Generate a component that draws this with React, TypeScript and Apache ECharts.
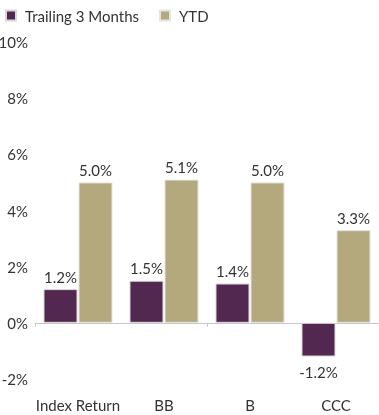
import React, { useEffect, useRef } from "react";
import * as echarts from "echarts";

const categories = ["Index Return", "BB", "B", "CCC"];
const trailing3Months = [1.2, 1.5, 1.4, -1.2];
const ytd = [5.0, 5.1, 5.0, 3.3];
const seriesNames = ["Trailing 3 Months", "YTD"];

const PURPLE = "#532850";
const GOLD = "#b4a97c";
const TEXT = "#333333";
const FONT = "Lato";

export default function App() {
  const ref = useRef<HTMLDivElement>(null);
  useEffect(() => {
    if (!ref.current) return;
    const chart = echarts.init(ref.current, undefined, { renderer: "svg" });
    const fmt = (v: number) => v.toFixed(1) + "%";
    const mkData = (arr: number[]) =>
      arr.map((v) => ({
        value: v,
        label: { position: v < 0 ? "bottom" : "top", distance: v < 0 ? 8 : 5 },
      }));
    chart.setOption({
      animation: false,
      textStyle: { fontFamily: FONT },
      legend: {
        left: 0,
        top: 3,
        itemWidth: 10,
        itemHeight: 10,
        itemGap: 20,
        icon: "rect",
        textStyle: { fontFamily: FONT, fontSize: 15, color: TEXT, padding: [0, 0, 0, 4] },
        data: seriesNames,
      },
      grid: {
        left: 35,
        right: 0,
        top: 42,
        bottom: 36,
        containLabel: false,
        outerBoundsMode: "none",
      },
      xAxis: [
        {
          type: "category",
          data: categories,
          position: "bottom",
          axisLine: { show: false, onZero: false },
          axisTick: { show: false },
          axisLabel: { interval: 0, fontFamily: FONT, fontSize: 15, color: TEXT, margin: 18 },
        },
        {
          type: "category",
          data: categories,
          position: "top",
          axisLine: { show: true, onZero: true, lineStyle: { color: "#c8c8c8", width: 1 } },
          axisTick: { show: true, inside: true, length: 4, lineStyle: { color: "#c8c8c8" } },
          axisLabel: { show: false },
        },
      ],
      yAxis: {
        type: "value",
        min: -2,
        max: 10,
        interval: 2,
        splitLine: { show: false },
        axisLine: { show: false },
        axisTick: { show: false },
        axisLabel: {
          formatter: "{value}%",
          fontFamily: FONT,
          fontSize: 15,
          color: TEXT,
          margin: 7,
        },
      },
      series: [
        {
          name: seriesNames[0],
          type: "bar",
          xAxisIndex: 0,
          data: mkData(trailing3Months),
          barWidth: 34,
          barGap: "3%",
          itemStyle: { color: PURPLE, borderColor: "#d8d8d8", borderWidth: 1 },
          label: {
            show: true,
            formatter: (p: any) => fmt(p.value),
            fontFamily: FONT,
            fontSize: 15,
            color: TEXT,
          },
        },
        {
          name: seriesNames[1],
          type: "bar",
          xAxisIndex: 0,
          data: mkData(ytd),
          barWidth: 34,
          barGap: "3%",
          itemStyle: { color: GOLD, borderColor: "#e4e4e4", borderWidth: 1 },
          label: {
            show: true,
            formatter: (p: any) => fmt(p.value),
            fontFamily: FONT,
            fontSize: 15,
            color: TEXT,
          },
        },
      ],
    });
    return () => chart.dispose();
  }, []);
  return (
    <div
      ref={ref}
      style={{ position: "fixed", left: 0, top: 0, width: 379, height: 415 }}
    />
  );
}
